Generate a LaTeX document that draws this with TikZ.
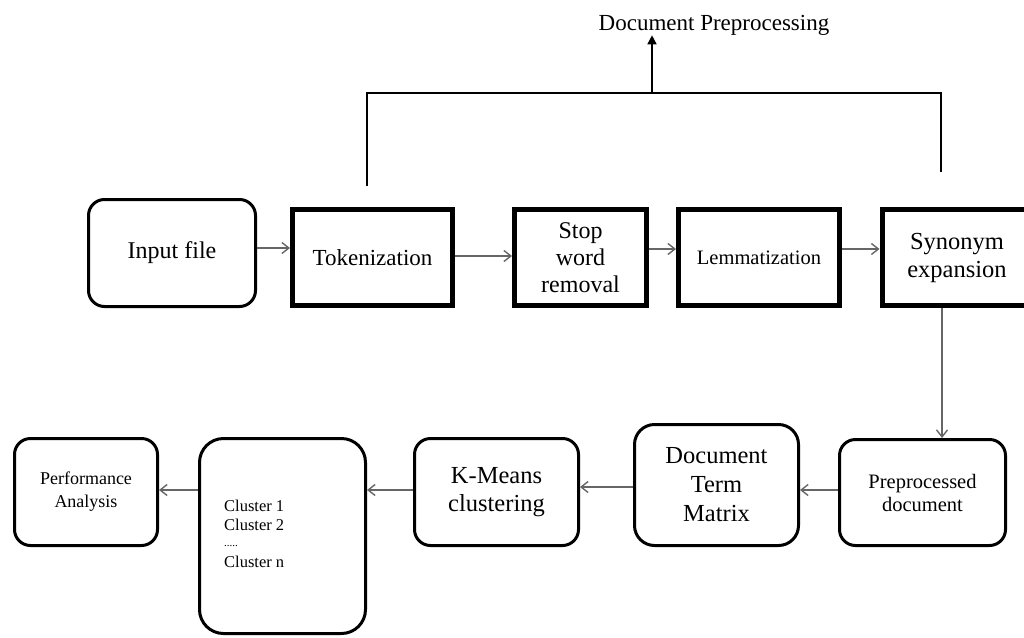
\documentclass[tikz,border=0pt]{standalone}
\usepackage{fontspec}
\setmainfont{Liberation Serif}
\usetikzlibrary{arrows.meta,calc}
\begin{document}
\begin{tikzpicture}[x=1pt,y=-1pt,
  thickbox/.style={draw=black,line width=5pt,minimum height=96pt,inner sep=0pt,align=center},
  rbox/.style={draw=black,line width=3pt,rounded corners=16pt,inner sep=0pt,align=center},
  arr/.style={draw=black!60,line width=1.6pt,-{Straight Barb[length=7pt,width=11pt,line width=1.4pt]}},
  brk/.style={draw=black,line width=1.5pt},
  lbl/.style={font=\fontsize{23}{27}\selectfont}
]
\useasboundingbox (0,0) rectangle (1024,637);
% top label
\node[lbl,inner sep=0pt] (dp) at (714,25) {Document Preprocessing};
% first row
\node[rbox,minimum width=167pt,minimum height=107pt,font=\fontsize{24}{28}\selectfont] (inp) at (172,253) {\raisebox{-4pt}{Input file}};
\node[thickbox,minimum width=160pt,font=\fontsize{23}{27}\selectfont] (tok) at (372.5,257.5) {Tokenization};
\node[thickbox,minimum width=132pt,font=\fontsize{24}{27}\selectfont] (stop) at (580.5,257.5) {Stop\\word\\removal};
\node[thickbox,minimum width=161pt,font=\fontsize{20.5}{24}\selectfont] (lem) at (759,257.5) {Lemmatization};
\node[thickbox,minimum width=150pt,font=\fontsize{24.5}{28}\selectfont] (syn) at (957,257.5) {Synonym\\expansion};
% second row
\node[rbox,minimum width=166pt,minimum height=106pt,font=\fontsize{20.5}{23}\selectfont] (pre) at (922.5,492.5) {Preprocessed\\document};
\node[rbox,minimum width=164pt,minimum height=121pt,rounded corners=20pt,font=\fontsize{24.5}{29}\selectfont] (dtm) at (716.5,485) {Document\\Term\\Matrix};
\node[rbox,minimum width=164pt,minimum height=107pt,font=\fontsize{24.5}{28}\selectfont] (km) at (496.5,492) {K-Means\\clustering};
\node[rbox,minimum width=166pt,minimum height=195pt,rounded corners=24pt] (cl) at (282.5,536) {};
\node[align=left,anchor=north west,inner sep=0pt,font=\fontsize{16.5}{18.5}\selectfont] (cltext) at (224,500) {Cluster 1\\Cluster 2\\[-2pt]{\fontsize{11}{12}\selectfont .....}\\[2pt]Cluster n};
\node[rbox,minimum width=143pt,minimum height=107pt,font=\fontsize{18}{23}\selectfont] (perf) at (86,492) {Performance\\Analysis};
% bracket
\coordinate (bl) at (367,186);
\coordinate (br) at (941,172);
\coordinate (bm) at (652,93);
\draw[brk] (bl) -- (367,93) -- (941,93) -- (br);
\draw[line width=1.5pt,-{Triangle[length=9pt,width=9pt]},black] (bm) -- (bm |- dp.south);
% arrows row 1
\draw[arr] (inp.east |- 0,248) -- (tok.west |- 0,248);
\draw[arr] (tok.east |- 0,256) -- (stop.west |- 0,256);
\draw[arr] (stop.east |- 0,249) -- (lem.west |- 0,249);
\draw[arr] (lem.east |- 0,249) -- (syn.west |- 0,249);
% down
\draw[arr] (syn.south -| 942,0) -- (pre.north -| 942,0);
% row 2
\draw[arr] (pre.west |- 0,490) -- (dtm.east |- 0,490);
\draw[arr] (dtm.west |- 0,487) -- (km.east |- 0,487);
\draw[arr] (km.west |- 0,490) -- (cl.east |- 0,490);
\draw[arr] (cl.west |- 0,490) -- (perf.east |- 0,490);
\end{tikzpicture}
\end{document}
